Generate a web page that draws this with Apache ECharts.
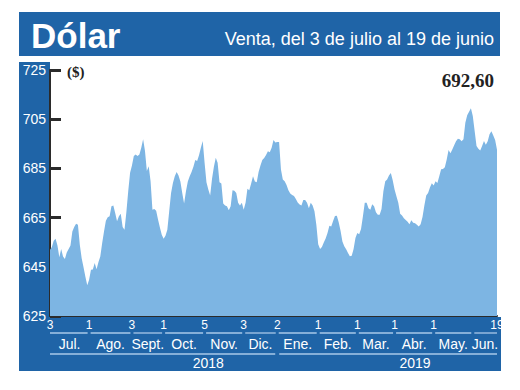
<!DOCTYPE html>
<html>
<head>
<meta charset="utf-8">
<script src="https://cdn.jsdelivr.net/npm/echarts@6/dist/echarts.min.js"></script>
<style>html,body{margin:0;padding:0;background:#fff}#c{width:520px;height:390px}</style>
</head>
<body>
<div id="c"></div>
<script>
// ---- Data ----
const titleText = 'Dólar';
const subtitleText = 'Venta, del 3 de julio al 19 de junio';
const unitText = '($)';

// Daily selling rate, trading days from 3 Jul 2018 to 19 Jun 2019
const julSep2018 = [
  651.9, 653.0, 655.6, 656.4, 653.7, 648.9, 652.2, 649.2, 648.2, 650.8,
  652.2, 653.7, 659.4, 661.2, 662.5, 662.1, 654.0, 648.5, 644.8, 641.0,
  637.5, 639.7, 643.8, 643.9, 646.5, 644.0, 646.9, 649.2, 654.6, 659.4,
  663.7, 665.1, 665.5, 669.6, 669.9, 666.9, 663.5, 665.5, 666.6, 661.2,
  660.1, 667.2, 675.7, 683.2, 686.2, 690.0, 690.7, 690.0, 690.6
];
const sepNov2018 = [
  693.4, 696.8, 692.1, 683.9, 685.9, 679.8, 668.2, 668.5, 667.8, 664.2,
  661.0, 658.0, 656.4, 657.6, 660.1, 667.6, 675.0, 679.1, 681.8, 683.5,
  682.1, 679.7, 675.0, 670.7, 675.7, 679.7, 681.8, 683.5, 685.7, 688.4,
  688.0, 690.3, 693.4, 696.1, 687.3, 679.4, 676.4, 674.0, 680.8, 685.7,
  689.3, 687.3, 679.4, 678.9, 670.7, 669.9, 669.6, 668.0
];
const decJan2019 = [
  669.6, 676.1, 675.9, 675.0, 671.0, 669.9, 671.0, 668.2, 671.0, 676.7,
  676.1, 678.9, 681.8, 679.7, 679.4, 683.5, 686.2, 688.4, 689.2, 690.4,
  692.0, 691.6, 693.4, 696.5, 695.5, 695.7, 695.7, 684.6, 680.5, 679.8,
  678.3, 676.1, 674.8, 674.2, 673.8, 672.6, 671.1, 670.3, 669.9, 672.2,
  672.2, 671.0, 668.8, 671.0, 669.9, 667.6, 662.1, 654.2
];
const febApr2019 = [
  652.2, 653.0, 654.9, 656.5, 658.7, 661.7, 661.4, 663.6, 665.7, 665.8,
  663.1, 659.7, 655.3, 653.4, 652.1, 650.6, 649.3, 649.5, 652.2, 656.7,
  658.7, 658.2, 660.4, 665.4, 671.0, 671.0, 668.8, 668.2, 670.4, 669.6,
  667.2, 666.2, 666.2, 668.5, 675.7, 679.8, 680.5, 682.1, 683.1, 680.2,
  676.4, 673.7, 671.0, 666.6, 665.9, 664.7, 664.0, 663.3, 662.3
];
const aprJun2019 = [
  663.9, 662.9, 662.7, 662.1, 661.4, 662.3, 665.2, 669.9, 674.0, 675.0,
  677.2, 679.0, 678.0, 679.8, 679.1, 681.8, 684.7, 684.8, 685.5, 688.6,
  692.5, 691.2, 692.7, 694.4, 696.0, 697.1, 696.8, 696.0, 696.8, 703.6,
  706.6, 708.0, 709.5, 706.3, 700.2, 694.1, 693.0, 692.3, 694.1, 696.1,
  694.6, 696.0, 698.9, 700.1, 698.4, 696.5, 692.6
];
const values = [].concat(julSep2018, sepNov2018, decJan2019, febApr2019, aprJun2019);

// Tick labels (day of month) at trading-day index
const tickDays   = [0, 21, 44, 61, 83, 104, 122, 144, 165, 185, 206, 240];
const tickLabels = ['3', '1', '3', '1', '5', '3', '2', '1', '1', '1', '1', '19'];
// Month spans (trading-day index of each month's first day, plus last day)
const monthBounds = [0, 21, 44, 61, 83, 104, 122, 144, 165, 185, 206, 227, 240];
const monthLabels = ['Jul.', 'Ago.', 'Sept.', 'Oct.', 'Nov.', 'Dic.', 'Ene.', 'Feb.', 'Mar.', 'Abr.', 'May.', 'Jun.'];
const yearLabels = ['2018', '2019'];
const yearBounds = [0, 122, 240];
const yTicks = [625, 645, 665, 685, 705, 725];

// ---- Layout / style ----
const BLUE = '#1f64a7';
const AREA = '#7db5e3';
const DARK = '#2b2b2b';
const SANS = '"Liberation Sans", Arial, sans-serif';
const yearLabelAnchor = [85, 196];

const cats = values.map((_, i) => String(i));
const tickMap = new Map(tickDays.map((d, k) => [d, tickLabels[k]]));

const chart = echarts.init(document.getElementById('c'), null, {renderer: 'svg', width: 520, height: 390});
chart.setOption({
  animation: false,
  grid: {left: 50, right: 23, top: 70, bottom: 74},
  xAxis: {
    type: 'category', data: cats, boundaryGap: false,
    axisLine: {lineStyle: {color: DARK, width: 2}},
    axisTick: {show: false},
    axisLabel: {
      interval: (i) => tickMap.has(i),
      formatter: (v) => tickMap.get(Number(v)) || '',
      color: '#fff', fontFamily: SANS, fontSize: 12, margin: 3
    },
    splitLine: {show: false}
  },
  yAxis: {
    type: 'value', min: 625, max: 725,
    splitLine: {show: false},
    axisLine: {show: true, lineStyle: {color: DARK, width: 2}},
    axisTick: {show: true, inside: true, length: 11, lineStyle: {color: DARK, width: 3}, customValues: yTicks},
    axisLabel: {customValues: yTicks, color: '#fff', fontFamily: SANS, fontSize: 14, margin: 4}
  },
  series: [{
    type: 'line', data: values, symbol: 'none', showSymbol: false, silent: true,
    lineStyle: {width: 0, opacity: 0},
    areaStyle: {color: AREA, opacity: 1, origin: 'start'}
  }]
});

const px = (i) => chart.convertToPixel({xAxisIndex: 0}, i);
const yBottom = chart.convertToPixel({yAxisIndex: 0}, 625);
const xLeft = px(0);
const g = [];
// panels
g.push({type: 'rect', z: -10, shape: {x: 19, y: 12, width: 481, height: 44}, style: {fill: BLUE}});
g.push({type: 'rect', z: -10, shape: {x: 19, y: 62, width: xLeft - 19, height: 309}, style: {fill: BLUE}});
g.push({type: 'rect', z: -10, shape: {x: 19, y: yBottom + 1, width: 482, height: 371 - yBottom - 1}, style: {fill: BLUE}});
// titles
g.push({type: 'text', z: 10, style: {text: titleText, x: 31, y: 35, fill: '#fff', font: 'bold 35px ' + SANS, verticalAlign: 'middle', align: 'left'}});
g.push({type: 'text', z: 10, style: {text: subtitleText, x: 494, y: 39, fill: '#fff', font: '18px ' + SANS, verticalAlign: 'middle', align: 'right'}});
g.push({type: 'text', z: 10, style: {text: unitText, x: 67, y: 72, fill: '#222', font: 'bold 15px "Liberation Serif", serif', verticalAlign: 'middle', align: 'left'}});
const last = values[values.length - 1];
g.push({type: 'text', z: 10, style: {text: last.toFixed(2).replace('.', ','), x: 494, y: 80, fill: '#222', font: 'bold 19px "Liberation Serif", serif', verticalAlign: 'middle', align: 'right'}});
// month separators and labels
for (let k = 0; k < monthLabels.length; k++) {
  const a = px(monthBounds[k]), b = px(monthBounds[k + 1]);
  const x1 = k === 0 ? a : a + 1.5, x2 = k === monthLabels.length - 1 ? b : b - 1.5;
  g.push({type: 'line', z: 10, shape: {x1: x1, y1: 333, x2: x2, y2: 333}, style: {stroke: '#a9c8e8', lineWidth: 1.3}});
  g.push({type: 'text', z: 10, style: {text: monthLabels[k], x: (a + b) / 2, y: 344, fill: '#fff', font: '14px ' + SANS, align: 'center', verticalAlign: 'middle'}});
}
for (let k = 0; k < yearLabels.length; k++) {
  const a = px(yearBounds[k]), b = px(yearBounds[k + 1]);
  const x1 = k === 0 ? a : a + 2, x2 = k === yearLabels.length - 1 ? b : b - 2;
  g.push({type: 'line', z: 10, shape: {x1: x1, y1: 354, x2: x2, y2: 354}, style: {stroke: '#a9c8e8', lineWidth: 1.3}});
  g.push({type: 'text', z: 10, style: {text: yearLabels[k], x: px(yearLabelAnchor[k]), y: 363, fill: '#fff', font: '14px ' + SANS, align: 'center', verticalAlign: 'middle'}});
}
chart.setOption({graphic: g});
</script>
</body>
</html>
